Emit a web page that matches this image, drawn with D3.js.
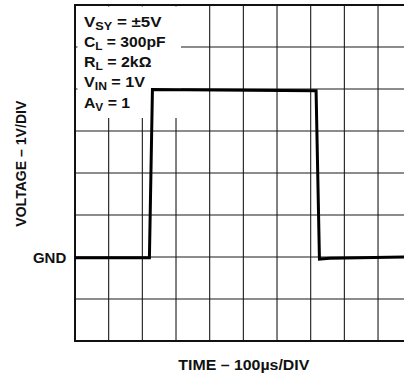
<!DOCTYPE html>
<html><head><meta charset="utf-8">
<script src="https://cdn.jsdelivr.net/npm/d3@7"></script>
<style>
html,body{margin:0;padding:0;background:#fff;overflow:hidden;}
svg{display:block;}
text{font-family:"Liberation Sans",Arial,Helvetica,sans-serif;font-weight:bold;fill:#111;}
</style></head><body>
<svg id="c" width="404" height="379"></svg>
<script>
// Data (time in microseconds, voltage in volts)
const timeUs = [0, 221, 230, 716, 726, 757, 1000];
const voltsV = [-0.02, -0.02, 3.99, 3.96, -0.05, -0.03, 0];
const xTicks = d3.range(0, 1001, 100);
const yTicks = d3.range(-2, 7, 1);
const conditions = [
  [["V", ""], ["SY", "sub"], [" = ±5V", ""]],
  [["C", ""], ["L", "sub"], [" = 300pF", ""]],
  [["R", ""], ["L", "sub"], [" = 2kΩ", ""]],
  [["V", ""], ["IN", "sub"], [" = 1V", ""]],
  [["A", ""], ["V", "sub"], [" = 1", ""]]
];
const xTitle = "TIME – 100µs/DIV";
const yTitle = "VOLTAGE – 1V/DIV";
const gndLabel = "GND";

const svg = d3.select("#c");
const x = d3.scaleLinear().domain([0, 1000]).range([75, 411.7]);
const y = d3.scaleLinear().domain([-2, 6]).range([341, 5]);

// grid
const g = svg.append("g");
g.selectAll("line.v").data(xTicks.slice(1, -1)).join("line")
  .attr("x1", d => x(d)).attr("x2", d => x(d))
  .attr("y1", y(6)).attr("y2", y(-2))
  .attr("stroke", "#1a1a1a").attr("stroke-width", 1.1);
g.selectAll("line.h").data(yTicks.slice(1, -1)).join("line")
  .attr("x1", x(0)).attr("x2", x(1000))
  .attr("y1", d => y(d)).attr("y2", d => y(d))
  .attr("stroke", "#1a1a1a").attr("stroke-width", 1.1);

// frame
svg.append("rect").attr("x", x(0)).attr("y", y(6))
  .attr("width", x(1000) - x(0)).attr("height", y(-2) - y(6))
  .attr("fill", "none").attr("stroke", "#111").attr("stroke-width", 2);

// white knockout behind conditions
svg.append("rect").attr("x", x(0) + 2.5).attr("y", y(6) + 1.5)
  .attr("width", 181 - (x(0) + 2.5)).attr("height", 118 - (y(6) + 1.5))
  .attr("fill", "#fff");

// trace
const pts = timeUs.map((t, i) => [t, voltsV[i]]);
svg.append("path").datum(pts)
  .attr("d", d3.line().x(d => x(d[0])).y(d => y(d[1])))
  .attr("fill", "none").attr("stroke", "#000").attr("stroke-width", 3)
  .attr("stroke-linejoin", "miter");

// conditions text
const condWidths = [77.5, 81.5, 67.5, 61, 46];
conditions.forEach((parts, i) => {
  const t = svg.append("text").attr("x", 84).attr("y", 26.7 + i * 20.2)
    .attr("font-size", 14)
    .attr("textLength", condWidths[i]).attr("lengthAdjust", "spacingAndGlyphs");
  parts.forEach(([s, k], j) => {
    if (k === "sub") {
      t.append("tspan").attr("font-size", 10.5).attr("dy", 3).text(s);
    } else {
      t.append("tspan").attr("dy", j > 0 ? -3 : 0).text(s);
    }
  });
});

// axis titles
svg.append("text").attr("x", x(500) + 0.5).attr("y", 370)
  .attr("text-anchor", "middle").attr("font-size", 14)
  .attr("textLength", 131).attr("lengthAdjust", "spacingAndGlyphs").text(xTitle);
svg.append("text").attr("transform", `translate(26,163.7) rotate(-90)`)
  .attr("text-anchor", "middle").attr("font-size", 14)
  .attr("textLength", 126).attr("lengthAdjust", "spacingAndGlyphs").text(yTitle);
svg.append("text").attr("x", 66.3).attr("y", y(0) + 6.3)
  .attr("text-anchor", "end").attr("font-size", 15).text(gndLabel);
</script>
</body></html>
